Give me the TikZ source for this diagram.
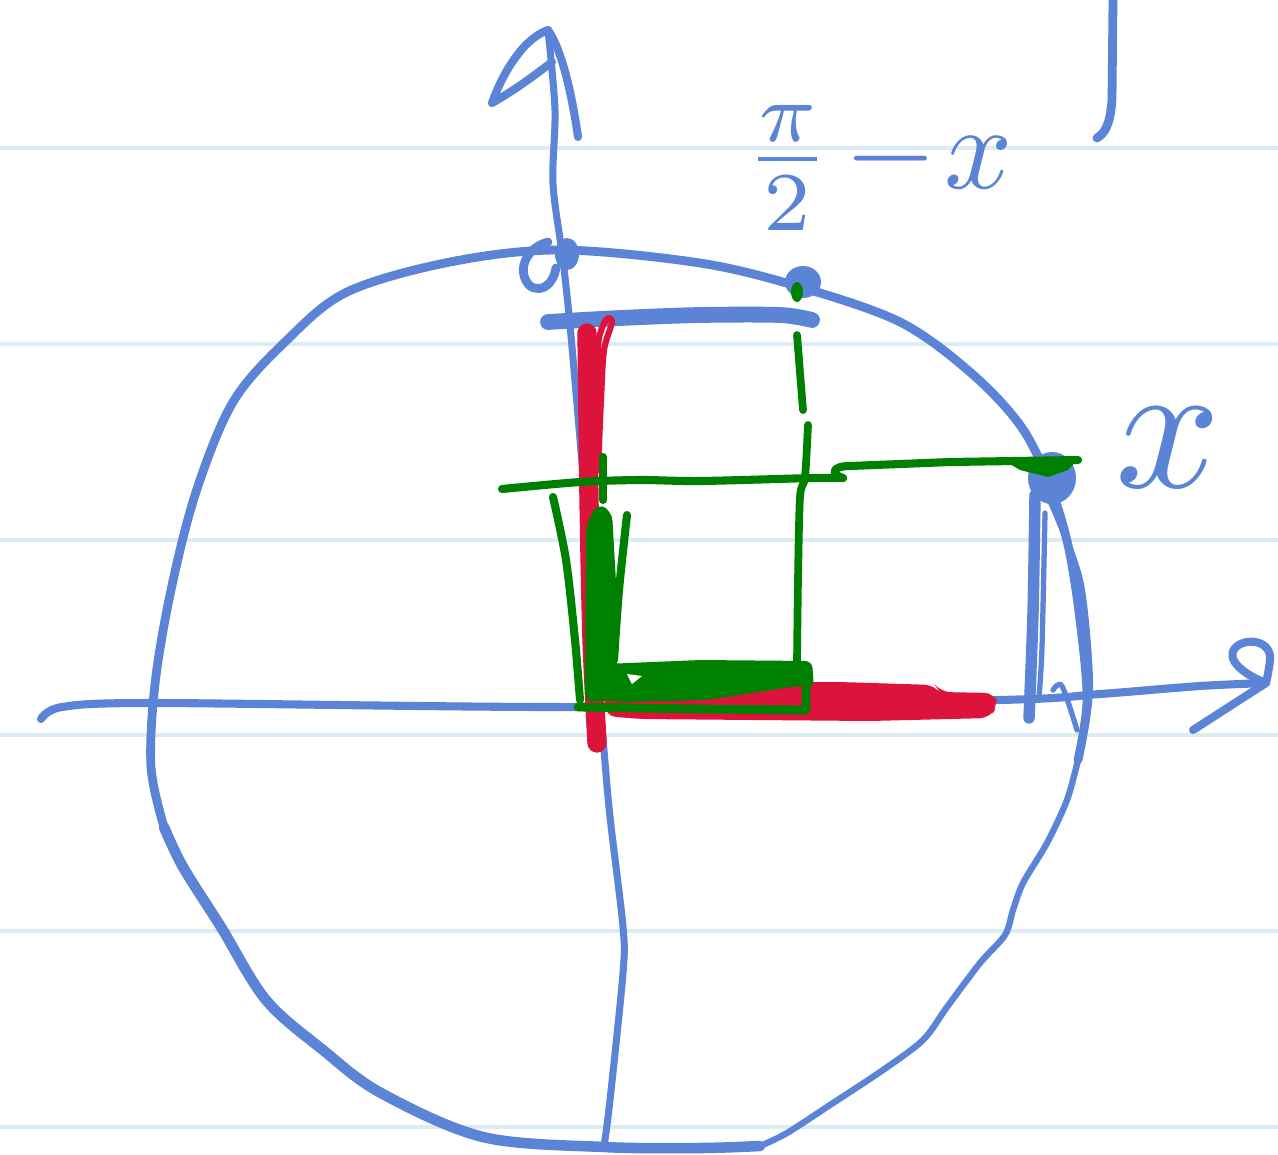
\documentclass[tikz,border=0pt]{standalone}
\usepackage{xcolor}
\definecolor{pen}{HTML}{5B84D6}
\definecolor{redpen}{HTML}{DC143C}
\definecolor{grnpen}{HTML}{008000}
\definecolor{ruled}{HTML}{DCECF4}
\tikzset{
  bluestroke/.style={draw=pen, line cap=round, line join=round, line width=#1},
  redstroke/.style={draw=redpen, line cap=round, line join=round, line width=#1},
  grnstroke/.style={draw=grnpen, line cap=round, line join=round, line width=#1},
  ruleline/.style={draw=ruled, line width=2pt},
  handlabel/.style={text=pen, inner sep=0pt}
}
\begin{document}
\begin{tikzpicture}[x=0.02cm,y=-0.02cm]
\useasboundingbox[fill=white] (0,0) rectangle (1278,1154);
% ruled paper lines
\foreach \yy in {148,344,540,735,931,1127} \draw[ruleline] (0,\yy) -- (1278,\yy);

% circle (hand drawn)
\draw[bluestroke=5pt] plot[smooth, tension=0.55] coordinates {(1078,760) (1087,700) (1080,620) (1068,545) (1048,480) (1020,425) (970,372) (900,322) (800,287) (700,263) (560,250) (450,262) (347,292) (286,341) (233,402) (196,492) (171,590) (155,684) (151,767) (164,827)};
\draw[bluestroke=6pt] plot[smooth, tension=0.55] coordinates {(164,827) (183,867) (221,927) (266,1000) (323,1050) (381,1093) (483,1137) (604,1147) (700,1148) (760,1146)};
\draw[bluestroke=3.6pt] plot[smooth, tension=0.5] coordinates {(760,1146) (787,1133) (833,1103) (883,1070) (923,1040) (947,1007) (980,963) (1005,935) (1013,910) (1023,883) (1047,843) (1067,800) (1078,760)};

% x axis
\draw[bluestroke=4.6pt] plot[smooth, tension=0.5] coordinates {(41,719) (62,707) (155,703) (580,707) (1000,700) (1100,694) (1200,686) (1266,683)};
\coordinate (xtip) at (1266,683);
\draw[bluestroke=4.6pt] (xtip) .. controls (1245,675) and (1225,660) .. (1235,648) .. controls (1245,637) and (1272,640) .. (1270,660) .. controls (1269,670) and (1267,678) .. (xtip) -- (1193,730);

% y axis
\draw[bluestroke=4pt] plot[smooth, tension=0.5] coordinates {(604,1147) (610,1100) (623,973) (623,927) (610,817) (604,750) (595,640) (585,500) (571,336) (563,260) (553,184) (555,110) (548,30)};
\coordinate (ytip) at (548,30);
\draw[bluestroke=4.6pt] (ytip) .. controls (562,50) and (572,95) .. (578,137);
\draw[bluestroke=4.6pt] (ytip) .. controls (520,40) and (500,80) .. (492,103) .. controls (515,90) and (535,75) .. (552,62);

% points on circle
\draw[bluestroke=5pt] (548,242) .. controls (525,248) and (516,272) .. (530,286) .. controls (543,294) and (554,282) .. (556,268);
\fill[pen] (567,254) ellipse (12 and 16);
\fill[pen] (803,282) ellipse (18 and 16);
\fill[pen] (1052,478) ellipse (24 and 26);

% thick blue horizontal from y axis to the point
\draw[bluestroke=9pt] plot[smooth] coordinates {(548,322) (620,318) (700,315) (780,315) (812,320)};

% right side vertical strokes at the point x
\draw[bluestroke=6.5pt] plot[smooth] coordinates {(1035,495) (1033,613) (1029,718)};
\draw[bluestroke=3pt] plot[smooth] coordinates {(1045,513) (1042,647) (1039,697)};
\draw[bluestroke=3.5pt] plot[smooth] coordinates {(1050,500) (1080,580) (1090,680) (1085,730)};
\draw[bluestroke=3pt] plot[smooth] coordinates {(1053,690) (1062,686) (1077,730)};

% red segments
\draw[redstroke=11pt] plot[smooth] coordinates {(587,333) (589,500) (592,640) (597,743)};
\draw[redstroke=3.5pt] plot[smooth] coordinates {(598,470) (601,400) (604,350) (612,322) (606,320) (598,345) (596,420)};
\fill[redpen, rounded corners=6pt] (605,683) -- (840,682) -- (935,685) -- (940,692) -- (995,693) -- (998,705) -- (990,718) -- (870,721) -- (640,719) -- (605,716) -- cycle;

% green construction
\draw[grnstroke=4.6pt] plot[smooth, tension=0.5] coordinates {(502,489) (580,482) (640,480) (700,481) (813,478) (843,478)};
\draw[grnstroke=4.6pt] (843,478) .. controls (830,474) and (832,466) .. (850,466) -- (950,462) -- (1078,460);
\fill[grnpen] (1000,458) -- (1080,457) -- (1068,470) -- (1048,477) -- (1020,470) -- cycle;
\draw[grnstroke=4.6pt] (603,457) -- (603,500);
% dashed vertical
\fill[grnpen] (797,292) ellipse (6 and 10);
\draw[grnstroke=4.4pt] (797,335) -- (803,410);
\draw[grnstroke=4.4pt] plot[smooth] coordinates {(808,425) (805,477) (800,497) (798,580) (797,664)};
% vertical scribble near y axis
\draw[grnstroke=4.6pt] plot[smooth] coordinates {(553,497) (566,560) (575,640) (580,700)};
\fill[grnpen, rounded corners=5pt] (586,525) -- (598,503) -- (612,512) -- (617,600) -- (617,700) -- (585,702) -- cycle;
\draw[grnstroke=4.6pt] plot[smooth] coordinates {(627,515) (619,590) (614,660)};
% bottom green bar
\fill[grnpen, rounded corners=4pt] (605,664) -- (700,660) -- (812,661) -- (814,688) -- (797,686) -- (707,700) -- (620,702) -- (605,700) -- cycle;
\fill[white] (627,674) -- (642,676) -- (632,684) -- cycle;
\draw[grnstroke=5pt] (578,707) -- (700,709) -- (806,710) -- (806,690);

% labels
\node[handlabel, scale=6.8] (pilabel) at (878,168) {$\frac{\pi}{2}\mkern2mu{-}\mkern1mu x$};
\node[handlabel, scale=10.5] (xlabel) at (1168,448) {$x$};
\draw[bluestroke=5pt] (1113,0) -- (1112,100) .. controls (1110,125) and (1105,133) .. (1097,138);
\end{tikzpicture}
\end{document}
